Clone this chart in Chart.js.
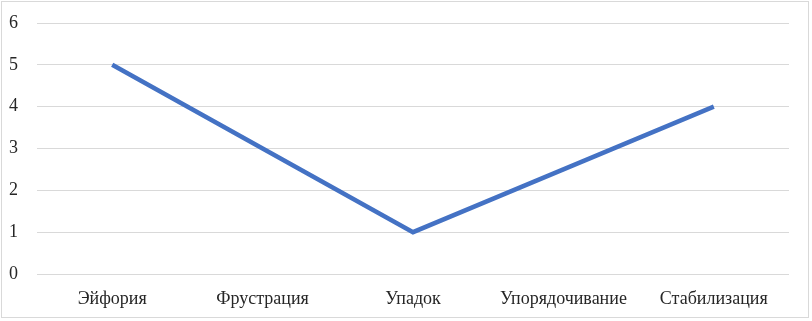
<!DOCTYPE html>
<html>
<head>
<meta charset="utf-8">
<script src="https://cdn.jsdelivr.net/npm/chart.js@4/dist/chart.umd.min.js"></script>
<style>
  html, body { margin: 0; padding: 0; background: #fff; }
  #wrap { position: absolute; left: 1px; top: 1px; width: 808px; height: 317px; border: 1px solid #d9d9d9; box-sizing: border-box; }
  #c { position: absolute; left: 0; top: 0; }
</style>
</head>
<body>
<div id="wrap"></div>
<canvas id="c" width="812" height="321"></canvas>
<script>
const categories = ['Эйфория', 'Фрустрация', 'Упадок', 'Упорядочивание', 'Стабилизация'];
const seriesValues = [5, 3, 1, 2.5, 4];
const yTicks = [0, 1, 2, 3, 4, 5, 6];

const font = { family: '"Liberation Serif", "Times New Roman", serif', size: 18 };

new Chart(document.getElementById('c'), {
  type: 'line',
  data: {
    labels: categories,
    datasets: [{
      data: seriesValues,
      borderColor: '#4472C4',
      borderWidth: 4.5,
      pointRadius: 0,
      tension: 0,
      fill: false
    }]
  },
  options: {
    responsive: false,
    animation: false,
    devicePixelRatio: 1,
    layout: { padding: { left: 0, right: 23, top: 23, bottom: 0 } },
    plugins: { legend: { display: false }, tooltip: { enabled: false } },
    scales: {
      x: {
        offset: true,
        grid: { display: false, drawTicks: false },
        border: { display: false },
        ticks: { font: font, color: '#262626', padding: 14, maxRotation: 0, autoSkip: false },
        afterFit: (s) => { s.height = 321 - 274; s.paddingLeft = 0; s.paddingRight = 0; }
      },
      y: {
        min: 0, max: 6,
        afterBuildTicks: (s) => { s.ticks = yTicks.map(v => ({ value: v })); },
        grid: { color: '#d9d9d9', lineWidth: 1, drawTicks: false },
        border: { display: false },
        ticks: { font: font, color: '#262626', padding: 19 },
        afterFit: (s) => { s.width = 37; s.paddingTop = 0; s.paddingBottom = 0; }
      }
    }
  }
});
</script>
</body>
</html>
